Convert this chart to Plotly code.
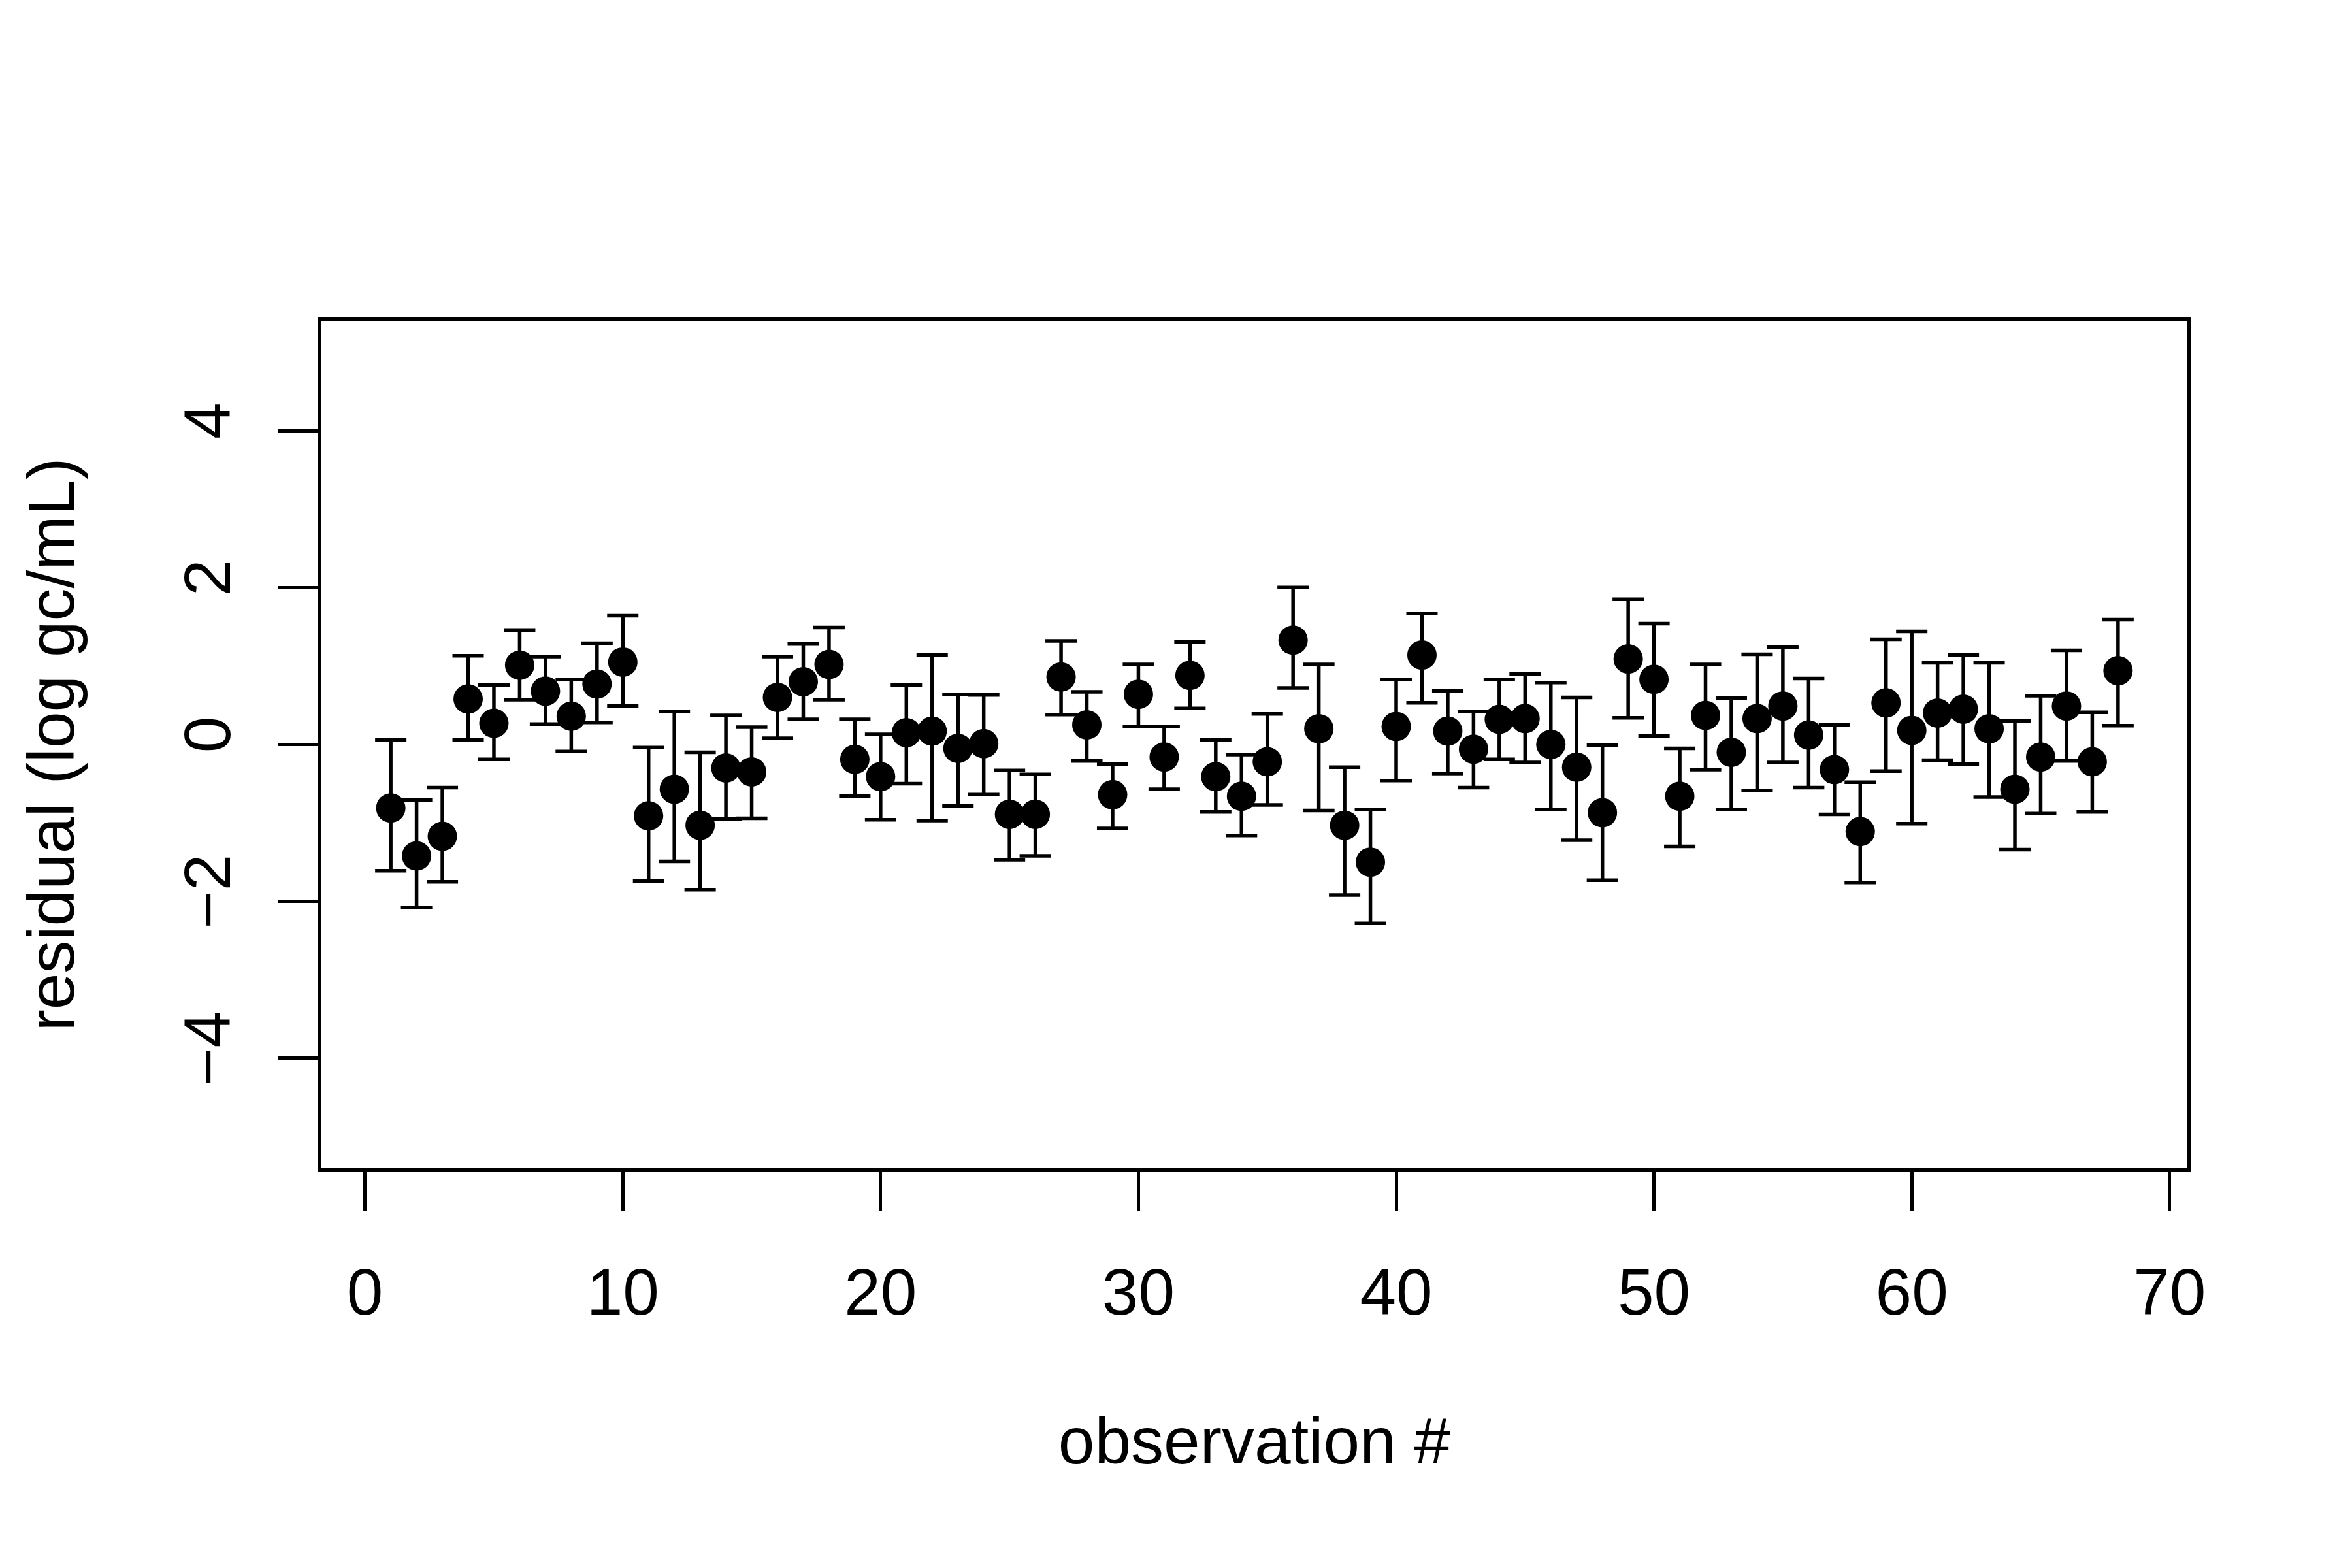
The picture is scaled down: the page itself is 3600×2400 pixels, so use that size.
import plotly.graph_objects as go

# residuals per observation
obs = list(range(1, 69))
resid = [-0.81, -1.42, -1.17, 0.58, 0.27, 1.01, 0.68, 0.36, 0.77, 1.05,
         -0.91, -0.57, -1.03, -0.30, -0.35, 0.60, 0.80, 1.02, -0.19, -0.41,
         0.15, 0.17, -0.05, 0.01, -0.89, -0.89, 0.86, 0.25, -0.64, 0.64,
         -0.16, 0.88, -0.41, -0.66, -0.22, 1.33, 0.20, -1.03, -1.50, 0.23,
         1.14, 0.17, -0.06, 0.32, 0.33, 0.00, -0.29, -0.87, 1.09, 0.83,
         -0.66, 0.37, -0.10, 0.33, 0.49, 0.12, -0.32, -1.11, 0.53, 0.18,
         0.40, 0.45, 0.20, -0.57, -0.16, 0.49, -0.22, 0.94]
upper = [0.06, -0.71, -0.55, 1.13, 0.76, 1.46, 1.12, 0.83, 1.29, 1.64,
         -0.04, 0.42, -0.10, 0.37, 0.22, 1.12, 1.28, 1.49, 0.32, 0.13,
         0.76, 1.14, 0.64, 0.63, -0.33, -0.38, 1.32, 0.67, -0.25, 1.02,
         0.23, 1.31, 0.06, -0.13, 0.39, 2.00, 1.02, -0.29, -0.83, 0.83,
         1.67, 0.68, 0.42, 0.83, 0.90, 0.79, 0.60, -0.01, 1.85, 1.54,
         -0.05, 1.02, 0.59, 1.15, 1.24, 0.84, 0.25, -0.48, 1.34, 1.44,
         1.04, 1.14, 1.04, 0.30, 0.62, 1.20, 0.41, 1.59]
lower = [-1.61, -2.08, -1.75, 0.06, -0.19, 0.57, 0.26, -0.09, 0.28, 0.49,
         -1.74, -1.49, -1.85, -0.95, -0.94, 0.08, 0.32, 0.57, -0.66, -0.96,
         -0.50, -0.97, -0.78, -0.64, -1.47, -1.42, 0.38, -0.21, -1.07, 0.23,
         -0.57, 0.46, -0.86, -1.16, -0.77, 0.72, -0.84, -1.92, -2.28, -0.46,
         0.53, -0.37, -0.55, -0.19, -0.23, -0.83, -1.22, -1.73, 0.34, 0.11,
         -1.30, -0.32, -0.83, -0.59, -0.23, -0.55, -0.89, -1.76, -0.34, -1.01,
         -0.20, -0.25, -0.67, -1.34, -0.88, -0.21, -0.86, 0.24]

xticks = [0, 10, 20, 30, 40, 50, 60, 70]
yticks = [-4, -2, 0, 2, 4]

err_up = [u - r for u, r in zip(upper, resid)]
err_down = [r - l for r, l in zip(resid, lower)]

fnt = dict(family="Liberation Sans, Arial, Helvetica, sans-serif", size=100, color="black")

fig = go.Figure()
fig.add_trace(go.Scatter(
    x=obs, y=resid, mode="markers",
    marker=dict(color="black", size=45),
    error_y=dict(type="data", symmetric=False, array=err_up, arrayminus=err_down,
                 color="black", thickness=5.5, width=24),
    showlegend=False,
))

# page body adds ~8px offset, so margins are pulled in by that much
fig.update_layout(
    width=3600, height=2400,
    margin=dict(l=484, r=260, t=483, b=620),
    paper_bgcolor="white", plot_bgcolor="white",
    font=fnt,
)
fig.update_xaxes(
    range=[-1.69, 70.69], tickvals=xticks, ticks="outside", ticklen=60,
    tickwidth=5, tickcolor="black", showgrid=False, zeroline=False,
    showline=True, linewidth=6, linecolor="black", mirror=True,
    tickfont=fnt, ticklabelstandoff=38,
    title=dict(text="observation #", font=fnt, standoff=140),
)
fig.update_yaxes(
    range=[-5.4, 5.4], tickvals=yticks, ticks="outside", ticklen=60,
    tickwidth=5, tickcolor="black", showgrid=False, zeroline=False,
    showline=True, linewidth=6, linecolor="black", mirror=True,
    tickangle=-90, tickfont=fnt, ticklabelstandoff=34,
    title=dict(text="residual (log gc/mL)", font=fnt, standoff=116),
)

fig.write_html("out.html")
